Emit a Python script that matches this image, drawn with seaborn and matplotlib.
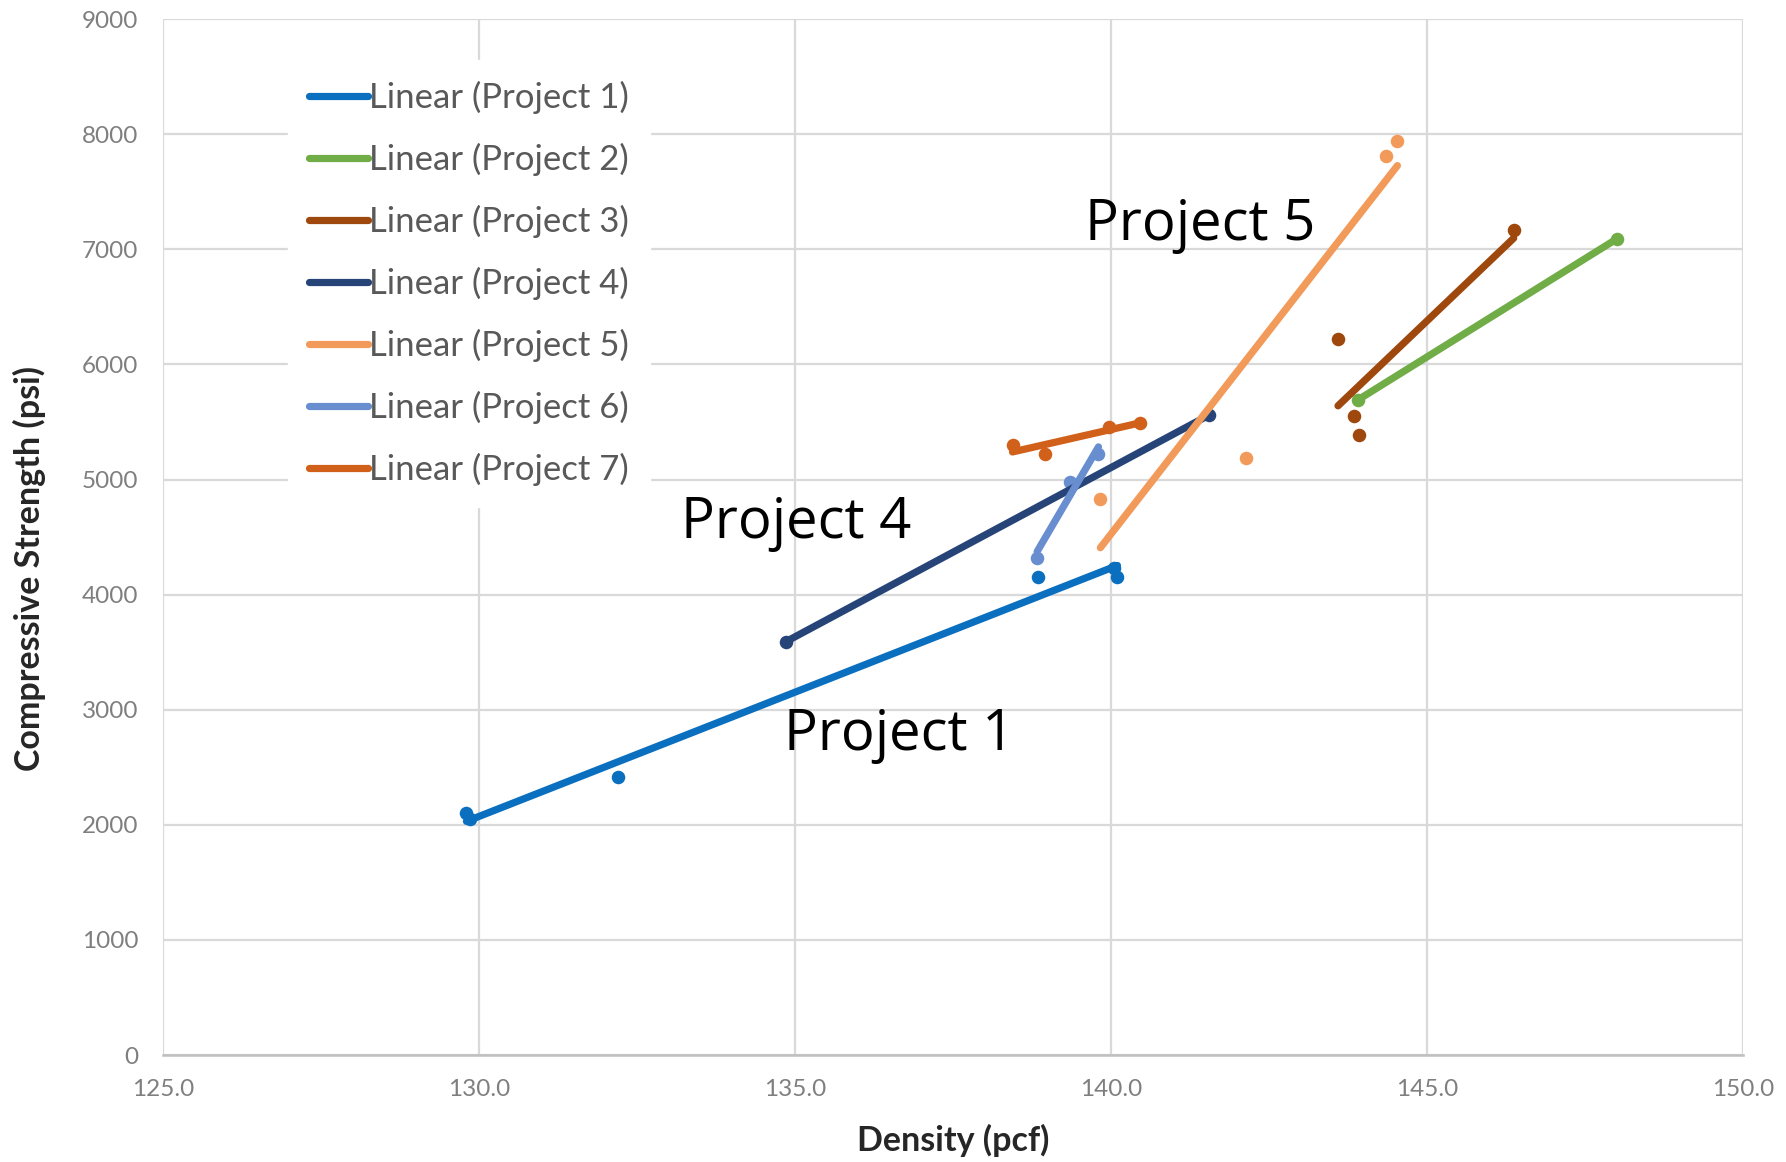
import numpy as np
import matplotlib
matplotlib.use("Agg")
import matplotlib.pyplot as plt
import seaborn as sns

# ---- data ----
projects = ["Project 1", "Project 2", "Project 3", "Project 4",
            "Project 5", "Project 6", "Project 7"]

p1_density = [129.80, 129.85, 132.20, 138.85, 140.05, 140.10]
p1_strength = [2100, 2050, 2420, 4150, 4230, 4150]

p2_density = [143.90, 148.00]
p2_strength = [5690, 7090]

p3_density = [143.59, 143.85, 143.92, 146.37]
p3_strength = [6218, 5554, 5386, 7168]

p4_density = [134.85, 141.55]
p4_strength = [3590, 5560]

p5_density = [139.83, 142.14, 144.35, 144.53]
p5_strength = [4832, 5188, 7812, 7941]

p6_density = [138.83, 139.35, 139.80]
p6_strength = [4320, 4980, 5220]

p7_density = [138.44, 138.95, 139.96, 140.46]
p7_strength = [5297, 5218, 5455, 5495]

colors = ["#0B6FC0", "#70AD47", "#9E480E", "#264478",
          "#F29A5A", "#698ED0", "#D0601A"]

x_ticks = [125.0, 130.0, 135.0, 140.0, 145.0, 150.0]
y_ticks = [0, 1000, 2000, 3000, 4000, 5000, 6000, 7000, 8000, 9000]

annotations = ["Project 5", "Project 4", "Project 1"]
annot_x = [139.58, 133.2, 134.82]
annot_y = [7208, 4614, 2772]

# ---- plotting ----
sns.set_style("white")
plt.rcParams["font.family"] = ["Lato", "DejaVu Sans"]

fig = plt.figure(figsize=(17.86, 11.62), dpi=100)
ax = fig.add_axes([0.0913, 0.092, 0.976 - 0.0913, 0.9836 - 0.092])

series = [(p1_density, p1_strength), (p2_density, p2_strength),
          (p3_density, p3_strength), (p4_density, p4_strength),
          (p5_density, p5_strength), (p6_density, p6_strength),
          (p7_density, p7_strength)]

for i, ((xd, yd), name, c) in enumerate(zip(series, projects, colors)):
    sns.regplot(x=np.array(xd), y=np.array(yd), ax=ax, ci=None, truncate=True,
                color=c,
                scatter_kws={"s": 95, "alpha": 1, "linewidths": 0, "zorder": 3},
                line_kws={"linewidth": 5.2, "label": f"Linear ({name})",
                          "zorder": 4, "solid_capstyle": "round"})

ax.set_xlim(125, 150)
ax.set_ylim(0, 9000)
ax.set_xticks(x_ticks)
ax.set_xticklabels([f"{t:.1f}" for t in x_ticks])
ax.set_yticks(y_ticks)
ax.set_yticklabels([str(t) for t in y_ticks])
ax.tick_params(axis="both", length=0, labelsize=17.5, labelcolor="#7F7F7F")
ax.tick_params(axis="x", pad=17)
ax.tick_params(axis="y", pad=18)

ax.grid(True, color="#D9D9D9", linewidth=1.6, zorder=0)
ax.set_axisbelow(True)
for s in ["top", "right", "left"]:
    ax.spines[s].set_visible(False)
ax.spines["bottom"].set_color("#BFBFBF")
ax.spines["bottom"].set_linewidth(1.8)

ax.set_xlabel("Density (pcf)", fontsize=24.5, fontweight="bold", color="#262626")
ax.set_ylabel("Compressive Strength (psi)", fontsize=24.5, fontweight="bold",
              color="#262626")
ax.xaxis.set_label_coords(0.5, -0.066)
ax.yaxis.set_label_coords(-0.074, 0.47)

for t, x, y in zip(annotations, annot_x, annot_y):
    ax.text(x, y, t, fontsize=40.5, color="black", ha="left", va="center",
            family=["Open Sans", "DejaVu Sans"], zorder=6)

leg = ax.legend(loc="upper left", bbox_to_anchor=(0.068, 0.977), fontsize=25,
                frameon=True, framealpha=1, facecolor="white", edgecolor="white",
                handlelength=1.7, handletextpad=0.05, labelspacing=0.83,
                borderpad=0.6)
for txt in leg.get_texts():
    txt.set_color("#595959")
leg.set_zorder(5)

fig.savefig("out.png", dpi=100, facecolor="white")
